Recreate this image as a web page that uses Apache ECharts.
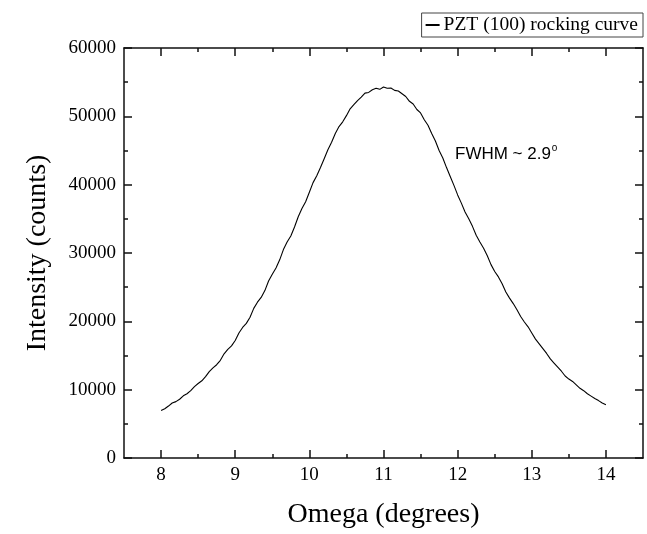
<!DOCTYPE html>
<html>
<head>
<meta charset="utf-8">
<script src="https://cdn.jsdelivr.net/npm/echarts@6/dist/echarts.min.js"></script>
<style>
html,body{margin:0;padding:0;background:#fff;}
#chart{width:647px;height:534px;}
</style>
</head>
<body>
<div id="chart"></div>
<script>
var omega = [8.0,8.05,8.1,8.15,8.2,8.25,8.3,8.35,8.4,8.45,8.5,8.55,8.6,8.65,8.7,8.75,8.8,8.85,8.9,8.95,
  9.0,9.05,9.1,9.15,9.2,9.25,9.3,9.35,9.4,9.45,9.5,9.55,9.6,9.65,9.7,9.75,9.8,9.85,9.9,9.95,
  10.0,10.05,10.1,10.15,10.2,10.25,10.3,10.35,10.4,10.45,10.5,10.55,10.6,10.65,10.7,10.75,10.8,10.85,10.9,10.95,
  11.0,11.05,11.1,11.15,11.2,11.25,11.3,11.35,11.4,11.45,11.5,11.55,11.6,11.65,11.7,11.75,11.8,11.85,11.9,11.95,
  12.0,12.05,12.1,12.15,12.2,12.25,12.3,12.35,12.4,12.45,12.5,12.55,12.6,12.65,12.7,12.75,12.8,12.85,12.9,12.95,
  13.0,13.05,13.1,13.15,13.2,13.25,13.3,13.35,13.4,13.45,13.5,13.55,13.6,13.65,13.7,13.75,13.8,13.85,13.9,13.95,14.0];
var intensity = [6950,7200,7600,8050,8250,8600,9100,9400,9850,10450,10900,11300,11900,12650,13200,13650,14300,15250,15900,16400,
  17200,18300,19100,19700,20600,21900,22800,23500,24500,25900,26900,27800,29000,30500,31600,32500,33800,35300,36500,37500,
  38900,40300,41300,42500,43800,45100,46200,47500,48500,49200,50100,51100,51700,52300,52800,53400,53500,53900,54100,53950,
  54300,54100,54150,53800,53700,53300,52900,52200,51800,51000,50500,49500,48700,47500,46400,45000,43900,42500,41200,39900,
  38500,37300,36000,35000,33900,32600,31600,30700,29600,28300,27300,26500,25500,24300,23400,22600,21700,20700,19900,19200,
  18300,17400,16700,16000,15300,14500,13900,13300,12700,12000,11550,11200,10700,10200,9850,9400,9050,8700,8400,8050,7800];
var xMajorTicks = [8,9,10,11,12,13,14];
var xMinorTicks = [8.5,9.5,10.5,11.5,12.5,13.5];
var seriesName = 'PZT (100) rocking curve';
var annotation = 'FWHM ~ 2.9';

var serif = '"Liberation Serif","Times New Roman",serif';
var sans = '"Liberation Sans",Arial,sans-serif';
var axisColor = '#111';

var chart = echarts.init(document.getElementById('chart'), null, {renderer:'canvas'});

function xAx(pos, major, showLine, showLabel, named) {
  var a = {
    type:'value', min:7.5, max:14.5, interval:0.5, position:pos,
    axisLine:{show:showLine, onZero:false, lineStyle:{color:axisColor,width:1.5}},
    axisTick:{show:true, inside:true, length: major?8:4, customValues: major?xMajorTicks:xMinorTicks, lineStyle:{color:axisColor,width:1.5}},
    axisLabel:{show:showLabel, customValues:xMajorTicks, formatter:function(v){return String(v);}, color:'#000', fontFamily:serif, fontSize:19, margin:8},
    splitLine:{show:false}
  };
  if (named) {
    a.name = 'Omega (degrees)';
    a.nameLocation = 'middle';
    a.nameGap = 43;
    a.nameTextStyle = {color:'#000', fontFamily:serif, fontSize:28};
  }
  return a;
}
function yAx(pos, showLabel, named) {
  var a = {
    type:'value', min:0, max:60000, interval:10000, position:pos,
    axisLine:{show:true, onZero:false, lineStyle:{color:axisColor,width:1.5}},
    axisTick:{show:true, inside:true, length:8, lineStyle:{color:axisColor,width:1.5}},
    minorTick:{show:true, splitNumber:2, length:4, lineStyle:{color:axisColor,width:1.5}},
    axisLabel:{show:showLabel, formatter:function(v){return String(v);}, color:'#000', fontFamily:serif, fontSize:19, margin:8},
    splitLine:{show:false}
  };
  if (named) {
    a.name = 'Intensity (counts)';
    a.nameLocation = 'middle';
    a.nameGap = 72;
    a.nameTextStyle = {color:'#000', fontFamily:serif, fontSize:28};
  }
  return a;
}

var option = {
  animation:false,
  backgroundColor:'#fff',
  grid:{left:124, right:4, top:48, bottom:70, containLabel:false},
  legend:{
    data:[seriesName], right:4, top:13,
    orient:'horizontal',
    borderColor:'#444', borderWidth:1, borderRadius:0,
    padding:[2,5,2,3],
    itemWidth:14, itemHeight:2, itemGap:5,
    textStyle:{color:'#000', fontFamily:serif, fontSize:19.5, padding:[0,0,0,-1]}
  },
  xAxis:[
    xAx('bottom', true, true, true, true),
    xAx('bottom', false, false, false, false),
    xAx('top', true, true, false, false),
    xAx('top', false, false, false, false)
  ],
  yAxis:[
    yAx('left', true, true),
    yAx('right', false, false)
  ],
  graphic:[{
    type:'text', left:455, top:143,
    style:{
      text:'{a|' + annotation + '}{b|o}',
      rich:{
        a:{fontFamily:sans, fontSize:17, fill:'#000', lineHeight:22},
        b:{fontFamily:sans, fontSize:10, fill:'#000', verticalAlign:'top', lineHeight:22, padding:[0,0,12,1]}
      }
    }
  }],
  series:[{
    name:seriesName, type:'line', xAxisIndex:0, yAxisIndex:0,
    symbol:'none', smooth:false,
    lineStyle:{color:'#000', width:1.1},
    itemStyle:{color:'#000'},
    data: omega.map(function(x,i){return [x, intensity[i]];})
  }]
};
chart.setOption(option);
</script>
</body>
</html>
